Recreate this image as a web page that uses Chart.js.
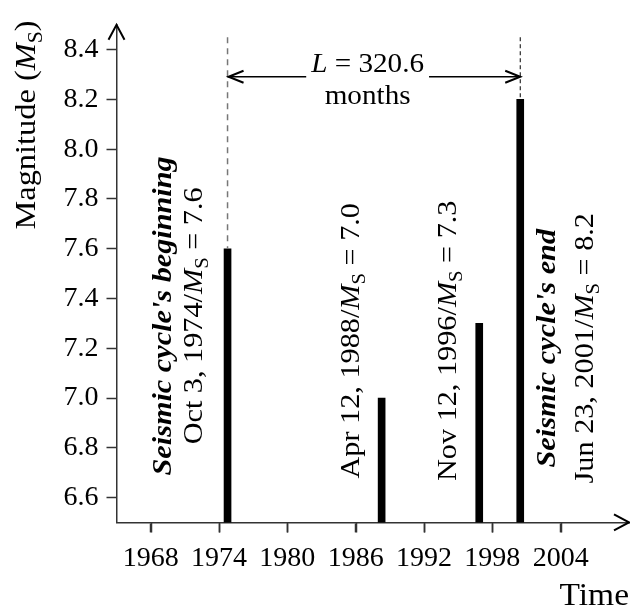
<!DOCTYPE html>
<html>
<head>
<meta charset="utf-8">
<script src="https://cdn.jsdelivr.net/npm/chart.js@4.4.1/dist/chart.umd.min.js"></script>
<style>
  html, body { margin: 0; padding: 0; background: #fff; }
  #wrap { width: 630px; height: 616px; }
</style>
</head>
<body>
<div id="wrap"><canvas id="chart"></canvas></div>
<script>
const eventYears = [1974.75, 1988.28, 1996.85, 2000.45];
const magnitudes = [7.6, 7.0, 7.3, 8.2];
const eventDates = ["Oct 3, 1974", "Apr 12, 1988", "Nov 12, 1996", "Jun 23, 2001"];
const xTicks = [1968, 1974, 1980, 1986, 1992, 1998, 2004];
const yTicks = [6.6, 6.8, 7.0, 7.2, 7.4, 7.6, 7.8, 8.0, 8.2, 8.4];
const cycleMonths = 320.6;

const SERIF = "'Liberation Serif', 'Times New Roman', serif";
const INK = "#000";
const AXIS = "#333";
const STRETCH = 1.08; // annotation text runs a little wider than plain Times

// rotated notes: x = baseline, y = centre (data units)
const notes = [
  { x: 1969.8, y: 7.33, bold: "Seismic cycle's beginning" },
  { x: 1972.5, y: 7.33, event: 0 },
  { x: 1986.3, y: 7.23, event: 1 },
  { x: 1994.8, y: 7.23, event: 2 },
  { x: 2003.5, y: 7.2, bold: "Seismic cycle's end" },
  { x: 2006.8, y: 7.2, event: 3 },
];

function font(size, style) {
  return (style || "") + " " + size + "px " + SERIF;
}

// draws text made of several font runs around (x, y)
function drawRich(ctx, parts, x, y, rotate, align) {
  ctx.save();
  ctx.translate(x, y);
  if (rotate) ctx.rotate(-Math.PI / 2);
  ctx.scale(STRETCH, 1);
  let total = 0;
  parts.forEach((p) => {
    ctx.font = p.font;
    p.w = ctx.measureText(p.text).width;
    total += p.w;
  });
  let cx = align === "right" ? -total : -total / 2;
  ctx.textAlign = "left";
  ctx.textBaseline = "alphabetic";
  parts.forEach((p) => {
    ctx.font = p.font;
    ctx.fillText(p.text, cx, p.dy || 0);
    cx += p.w;
  });
  ctx.restore();
  return total * STRETCH;
}

function magParts(prefix, value, size) {
  return [
    { text: prefix + "/", font: font(size) },
    { text: "M", font: font(size, "italic") },
    { text: "S", font: font(Math.round(size * 0.68)), dy: size * 0.22 },
    { text: " = " + value.toFixed(1), font: font(size) },
  ];
}

function chevron(ctx, tx, ty, dx, dy, len, half) {
  // dx, dy: unit direction the arrow points to
  const bx = tx - dx * len, by = ty - dy * len;
  ctx.beginPath();
  ctx.moveTo(bx - dy * half, by + dx * half);
  ctx.lineTo(tx, ty);
  ctx.lineTo(bx + dy * half, by - dx * half);
  ctx.stroke();
}

const decorations = {
  id: "decorations",
  afterDraw(chart) {
    const { ctx, chartArea: area, scales: { x, y } } = chart;
    ctx.save();
    ctx.fillStyle = INK;
    ctx.strokeStyle = INK;

    // x tick marks below the axis
    ctx.strokeStyle = AXIS;
    ctx.lineWidth = 1.5;
    ctx.beginPath();
    xTicks.forEach((v) => {
      const px = Math.round(x.getPixelForValue(v)) + 0.5;
      ctx.moveTo(px, area.bottom);
      ctx.lineTo(px, area.bottom + 10);
    });
    ctx.stroke();

    // dashed markers at the cycle's ends
    const xa = x.getPixelForValue(eventYears[0]);
    const xb = x.getPixelForValue(eventYears[3]);
    const topY = y.getPixelForValue(8.45);
    ctx.setLineDash([6, 5]);
    ctx.lineWidth = 1.5;
    ctx.strokeStyle = "#777";
    ctx.beginPath();
    ctx.moveTo(xa, topY);
    ctx.lineTo(xa, y.getPixelForValue(magnitudes[0]));
    ctx.stroke();
    ctx.setLineDash([4, 3]);
    ctx.lineWidth = 1;
    ctx.strokeStyle = INK;
    ctx.beginPath();
    ctx.moveTo(xb, topY);
    ctx.lineTo(xb, y.getPixelForValue(magnitudes[3]));
    ctx.stroke();
    ctx.setLineDash([]);

    // cycle length double arrow
    const ay = y.getPixelForValue(8.291);
    const xc = x.getPixelForValue(1987.05);
    const lw = drawRich(ctx, [
      { text: "L", font: font(27, "italic") },
      { text: " = " + cycleMonths.toFixed(1), font: font(27) },
    ], xc, y.getPixelForValue(8.312), false);
    drawRich(ctx, [{ text: "months", font: font(27) }], xc, y.getPixelForValue(8.183), false);
    const gap = lw / 2 + 5;
    ctx.lineWidth = 1.5;
    ctx.beginPath();
    ctx.moveTo(xa, ay);
    ctx.lineTo(xc - gap, ay);
    ctx.moveTo(xc + gap, ay);
    ctx.lineTo(xb, ay);
    ctx.stroke();
    ctx.lineWidth = 2;
    chevron(ctx, xa + 1, ay, -1, 0, 15, 6);
    chevron(ctx, xb, ay, 1, 0, 15, 6);

    // rotated event notes
    notes.forEach((n) => {
      const px = x.getPixelForValue(n.x);
      const py = y.getPixelForValue(n.y);
      if (n.bold) {
        drawRich(ctx, [{ text: n.bold, font: font(28, "italic bold") }], px, py, true);
      } else {
        drawRich(ctx, magParts(eventDates[n.event], magnitudes[n.event], 28), px, py, true);
      }
    });

    // axis arrows
    ctx.strokeStyle = INK;
    ctx.lineWidth = 2;
    chevron(ctx, area.left, area.top, 0, -1, 15, 8);
    chevron(ctx, area.right, area.bottom, 1, 0, 15, 8);

    // axis titles
    drawRich(ctx, [
      { text: "Magnitude (", font: font(30) },
      { text: "M", font: font(30, "italic") },
      { text: "S", font: font(20), dy: 7 },
      { text: ")", font: font(30) },
    ], 35, 125, true);
    drawRich(ctx, [{ text: "Time", font: font(31) }], 629, 605, false, "right");
    ctx.restore();
  },
};

const tickFont = { family: SERIF, size: 28 };

new Chart(document.getElementById("chart"), {
  type: "bar",
  data: {
    datasets: [
      {
        data: eventYears.map((yr, i) => ({ x: yr, y: magnitudes[i] })),
        backgroundColor: INK,
        borderWidth: 0,
        barThickness: 7,
      },
    ],
  },
  options: {
    responsive: true,
    maintainAspectRatio: false,
    animation: false,
    layout: {
      autoPadding: false,
      padding: { top: 9, left: 0, right: 1, bottom: 0 },
    },
    plugins: {
      legend: { display: false },
      tooltip: { enabled: false },
    },
    scales: {
      x: {
        type: "linear",
        min: 1965,
        max: 2010,
        offset: false,
        afterBuildTicks(scale) {
          scale.ticks = xTicks.map((v) => ({ value: v }));
        },
        afterFit(scale) {
          scale.height = 93.6;
        },
        grid: {
          offset: false,
          drawOnChartArea: false,
          drawTicks: true,
          tickLength: 10,
          tickColor: AXIS,
          tickWidth: 1.5,
        },
        border: { display: true, color: AXIS, width: 1.5 },
        ticks: {
          color: INK,
          font: tickFont,
          padding: 9,
          maxRotation: 0,
          autoSkip: false,
          callback: (v) => String(v),
        },
      },
      y: {
        type: "linear",
        min: 6.5,
        max: 8.5,
        afterBuildTicks(scale) {
          scale.ticks = yTicks.map((v) => ({ value: v }));
        },
        afterFit(scale) {
          scale.width = 116.5;
        },
        grid: {
          drawOnChartArea: false,
          drawTicks: true,
          tickLength: 10,
          tickColor: AXIS,
          tickWidth: 1.5,
        },
        border: { display: true, color: AXIS, width: 1.5 },
        ticks: {
          color: INK,
          font: tickFont,
          padding: 8,
          autoSkip: false,
          callback: (v) => v.toFixed(1),
        },
      },
    },
  },
  plugins: [decorations],
});
</script>
</body>
</html>
